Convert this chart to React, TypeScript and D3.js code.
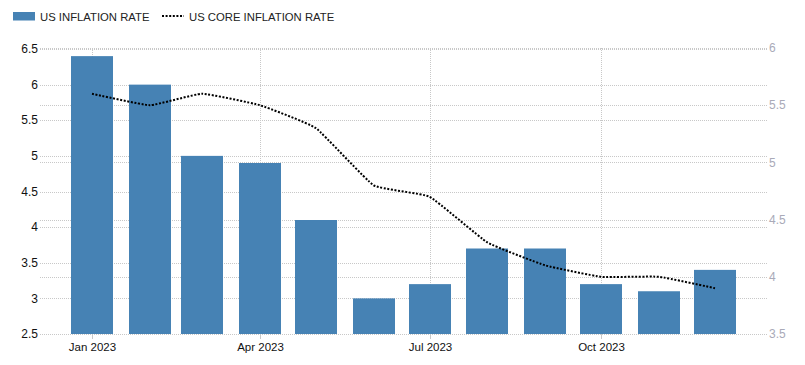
import React from 'react';
import * as d3 from 'd3';

const months = ['2023-01', '2023-02', '2023-03', '2023-04', '2023-05', '2023-06', '2023-07', '2023-08', '2023-09', '2023-10', '2023-11', '2023-12'];
const inflation = [6.4, 6.0, 5.0, 4.9, 4.1, 3.0, 3.2, 3.7, 3.7, 3.2, 3.1, 3.4];
const coreInflation = [5.6, 5.5, 5.6, 5.5, 5.3, 4.8, 4.7, 4.3, 4.1, 4.0, 4.0, 3.9];
const leftTicks = [2.5, 3, 3.5, 4, 4.5, 5, 5.5, 6, 6.5];
const rightTicks = [3.5, 4, 4.5, 5, 5.5, 6];
const xTickMonths = ['2023-01', '2023-04', '2023-07', '2023-10'];
const xTickLabels = ['Jan 2023', 'Apr 2023', 'Jul 2023', 'Oct 2023'];

const parse = d3.timeParse('%Y-%m');
const font = '"Liberation Sans", Arial, sans-serif';

export default function App() {
  const width = 805;
  const height = 365;
  const plot = { left: 40, right: 767, top: 48, bottom: 334 };

  // time scale: Jan 1 -> 92px, Dec 1 -> 715px
  const x = d3.scaleTime()
    .domain([parse('2023-01')!, parse('2023-12')!])
    .range([92, 715]);
  const yLeft = d3.scaleLinear().domain([2.5, 6.5]).range([plot.bottom, 49]);
  const yRight = d3.scaleLinear().domain([3.5, 6]).range([plot.bottom, 48]);
  const barW = 42;

  const line = d3.line<number>()
    .x((_, i) => x(parse(months[i])!))
    .y(d => yRight(d))
    .curve(d3.curveCardinal.tension(0.65));

  return (
    <div style={{ position: 'absolute', left: 0, top: 0 }}>
      <svg width={width} height={height} style={{ display: 'block', fontFamily: font }}>
        <rect width={width} height={height} fill="#fff" />

        {/* legend */}
        <rect x={13} y={12} width={22} height={8.5} fill="#4682b4" />
        <text x={40} y={20.5} fontSize={11.3} fill="#222">US INFLATION RATE</text>
        <line x1={162} x2={184} y1={16} y2={16} stroke="#000" strokeWidth={2} strokeDasharray="2,1.6" />
        <text x={189} y={20.5} fontSize={11.3} fill="#222">US CORE INFLATION RATE</text>

        {/* horizontal grid */}
        {leftTicks.map(t => (
          <line key={'gl' + t} x1={plot.left} x2={plot.right} y1={Math.round(yLeft(t)) + 0.5} y2={Math.round(yLeft(t)) + 0.5}
            stroke="#c8c8c8" strokeDasharray="1,1" />
        ))}
        {rightTicks.map(t => (
          <line key={'gr' + t} x1={plot.left} x2={plot.right} y1={Math.round(yRight(t)) + 0.5} y2={Math.round(yRight(t)) + 0.5}
            stroke="#c8c8c8" strokeDasharray="1,1" />
        ))}
        {/* vertical grid */}
        {xTickMonths.map(m => (
          <line key={'v' + m} x1={Math.round(x(parse(m)!)) + 0.5} x2={Math.round(x(parse(m)!)) + 0.5} y1={plot.top} y2={plot.bottom}
            stroke="#c8c8c8" strokeDasharray="1,1" />
        ))}

        {/* bars */}
        {inflation.map((v, i) => {
          const cx = x(parse(months[i])!);
          return (
            <rect key={'b' + i} x={Math.round(cx - barW / 2)} width={barW}
              y={yLeft(v)} height={yLeft(2.5) - yLeft(v)} fill="#4682b4" />
          );
        })}

        {/* core line */}
        <path d={line(coreInflation) || ''} fill="none" stroke="#000" strokeWidth={2} strokeDasharray="2,1.6" />

        {/* left axis labels */}
        {leftTicks.map(t => (
          <text key={'ll' + t} x={38} y={yLeft(t)} dy="0.35em" textAnchor="end" fontSize={12} fill="#111">
            {d3.format('')(t)}
          </text>
        ))}
        {/* right axis labels */}
        {rightTicks.map(t => (
          <text key={'rl' + t} x={769} y={yRight(t)} dy="0.35em" textAnchor="start" fontSize={12} fill="#a9aab8">
            {d3.format('')(t)}
          </text>
        ))}

        {/* x axis ticks and labels */}
        {xTickMonths.map((m, i) => {
          const tx = Math.round(x(parse(m)!)) + 0.5;
          return (
            <g key={'xt' + m}>
              <line x1={tx} x2={tx} y1={plot.bottom} y2={plot.bottom + 5} stroke="#c8c8c8" />
              <text x={tx} y={351} textAnchor="middle" fontSize={11.5} fill="#111">{xTickLabels[i]}</text>
            </g>
          );
        })}
      </svg>
    </div>
  );
}
